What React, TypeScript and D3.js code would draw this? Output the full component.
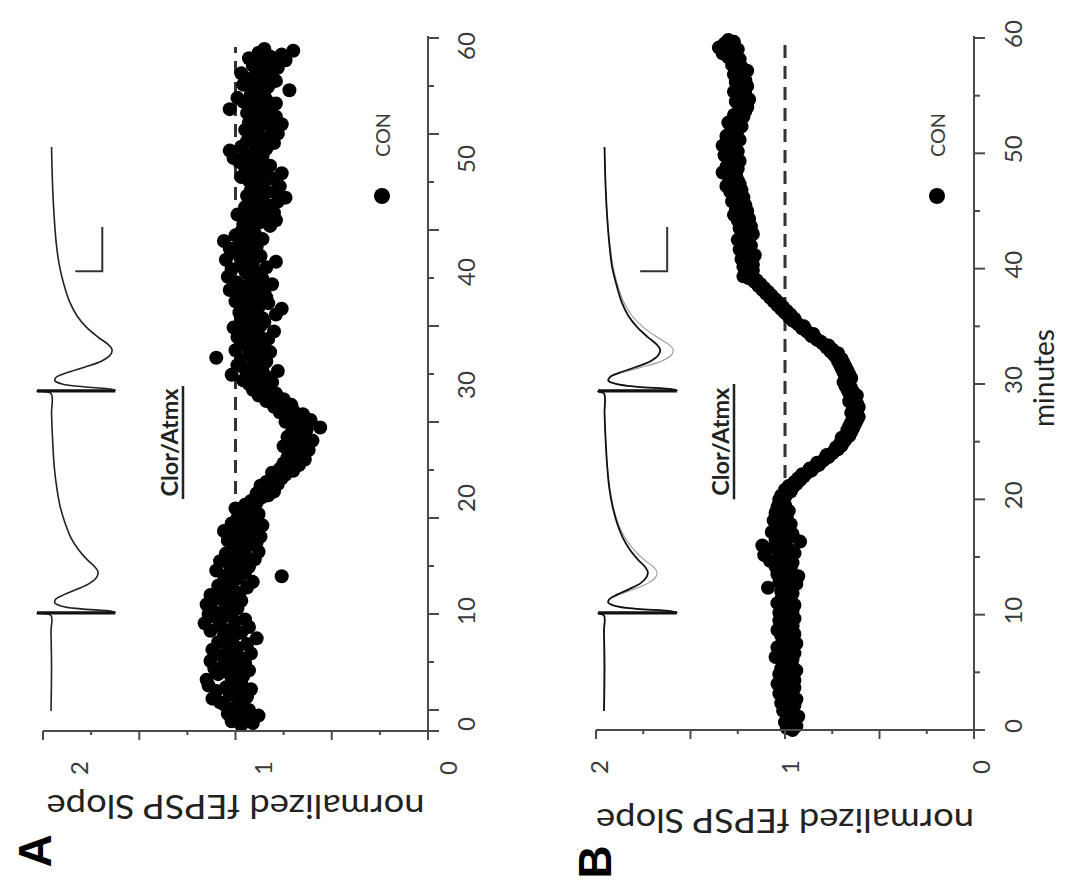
import React from 'react';
import * as d3 from 'd3';

// ---------------- data ----------------
const SAMPLES_PER_MIN = 6; // one slope value every 10 s
const MINUTE_LABELS = [0, 10, 20, 30, 40, 50, 60];
const VALUE_LABELS = [0, 1, 2];
const VALUE_TICKS = [0, 0.25, 0.5, 0.75, 1, 1.25, 1.5, 1.75, 2];
const MINUTE_TICKS = [0, 5, 10, 15, 20, 25, 30, 35, 40, 45, 50, 55, 60];
const A_TICK_MARKS = [0, 1, 2, 3, 4, 5, 6, 7, 8, 9, 10, 11, 12, 13, 14];
const BASELINE = 1;
const DRUG_WINDOW = [20, 30];
const DRUG_LABEL = 'Clor/Atmx';
const LEGEND_LABEL = 'CON';
const X_TITLE = 'minutes';
const Y_TITLE = 'normalized fEPSP Slope';

// Panel A: CON, normalized fEPSP slope (12 values = 2 minutes per row)
const CON_A = [
  0.97, 0.91, 1.02, 0.95, 0.99, 0.88, 1.04, 0.96, 0.93, 1.01, 0.97, 1.06,
  1.08, 0.98, 1.12, 0.94, 1.03, 0.99, 1.10, 0.92, 1.05, 1.14, 0.97, 1.01,
  1.15, 1.02, 0.96, 1.09, 1.04, 0.93, 1.11, 1.00, 1.06, 0.95, 1.13, 1.03,
  0.98, 1.07, 0.92, 1.04, 1.12, 0.99, 1.02, 0.94, 1.09, 1.05, 0.89, 1.01,
  1.06, 0.97, 1.13, 1.02, 0.93, 1.08, 1.16, 1.00, 0.95, 1.10, 1.04, 1.14,
  1.07, 1.12, 0.99, 1.05, 1.15, 1.02, 0.97, 1.10, 1.04, 1.13, 0.98, 1.06,
  1.01, 0.94, 1.09, 1.03, 0.91, 1.06, 0.98, 0.76, 1.04, 0.95, 1.10, 0.99,
  0.93, 1.03, 0.97, 1.08, 0.90, 1.01, 0.95, 1.05, 0.88, 0.99, 1.02, 0.94,
  0.98, 0.89, 1.04, 0.93, 0.87, 1.00, 0.95, 1.06, 0.91, 0.97, 0.86, 1.02,
  0.96, 0.90, 0.99, 0.93, 0.88, 0.97, 0.94, 1.00, 0.91, 0.95, 0.89, 0.92,
  0.90, 0.86, 0.83, 0.89, 0.80, 0.85, 0.82, 0.87, 0.78, 0.84, 0.80, 0.76,
  0.79, 0.74, 0.81, 0.70, 0.77, 0.72, 0.67, 0.75, 0.69, 0.64, 0.73, 0.70,
  0.66, 0.72, 0.62, 0.69, 0.75, 0.64, 0.70, 0.60, 0.67, 0.73, 0.65, 0.71,
  0.68, 0.63, 0.56, 0.70, 0.66, 0.74, 0.61, 0.69, 0.72, 0.65, 0.77, 0.70,
  0.74, 0.80, 0.71, 0.78, 0.84, 0.75, 0.82, 0.88, 0.79, 0.86, 0.91, 0.83,
  0.87, 0.93, 0.81, 0.96, 0.89, 0.84, 1.02, 0.91, 0.78, 0.95, 0.86, 0.99,
  0.90, 0.84, 0.97, 1.10, 0.88, 0.93, 0.82, 1.00, 0.91, 0.86, 0.96, 0.89,
  0.94, 0.83, 0.99, 0.88, 0.92, 0.80, 0.96, 1.01, 0.87, 0.91, 0.85, 0.97,
  0.86, 0.93, 0.79, 0.98, 0.90, 0.76, 0.88, 0.95, 0.83, 1.00, 0.89, 0.84,
  0.92, 0.97, 0.85, 1.03, 0.89, 0.94, 0.81, 0.99, 0.90, 0.86, 1.04, 0.93,
  0.88, 0.95, 1.02, 0.84, 0.97, 0.91, 0.79, 1.05, 0.93, 0.87, 0.99, 0.90,
  0.96, 1.03, 0.89, 0.98, 0.92, 1.06, 0.86, 0.95, 1.00, 0.90, 0.97, 0.93,
  0.91, 0.82, 0.96, 0.87, 0.79, 0.93, 0.85, 0.99, 0.80, 0.90, 0.84, 0.95,
  0.83, 0.91, 0.78, 0.88, 0.74, 0.94, 0.85, 0.80, 0.92, 0.86, 0.77, 0.89,
  0.85, 0.93, 0.80, 0.97, 0.88, 0.76, 0.91, 0.84, 0.95, 0.82, 0.89, 0.98,
  0.92, 1.01, 0.86, 0.95, 0.89, 1.03, 0.84, 0.97, 0.90, 0.80, 0.94, 0.88,
  0.83, 0.91, 0.78, 0.89, 0.95, 0.81, 0.87, 0.76, 0.93, 0.85, 0.90, 0.79,
  0.88, 0.94, 0.82, 1.03, 0.86, 0.91, 0.79, 0.96, 0.84, 0.99, 0.87, 0.92,
  0.85, 0.72, 0.90, 0.83, 0.96, 0.88, 0.79, 0.93, 0.86, 0.81, 0.97, 0.89,
  0.84, 0.78, 0.91, 0.80, 0.87, 0.74, 0.93, 0.82, 0.76, 0.88, 0.70, 0.85,
];

// Panel B: CON, normalized fEPSP slope (12 values = 2 minutes per row)
const CON_B = [
  0.96, 0.99, 0.94, 0.97, 1.00, 0.95, 0.98, 0.93, 0.99, 0.96, 1.01, 0.97,
  0.99, 0.95, 1.02, 0.97, 0.94, 1.00, 0.98, 1.03, 0.96, 0.99, 0.95, 1.01,
  1.04, 0.98, 0.95, 1.01, 0.97, 1.03, 0.99, 0.94, 1.02, 0.96, 1.00, 0.98,
  1.01, 0.96, 1.05, 0.99, 0.95, 1.02, 0.97, 1.04, 0.98, 0.94, 1.01, 0.99,
  0.97, 1.02, 0.95, 1.00, 1.04, 0.98, 0.96, 1.01, 0.99, 1.03, 0.95, 1.00,
  0.98, 1.03, 0.96, 1.01, 0.99, 0.95, 1.04, 0.97, 1.02, 0.98, 1.00, 0.96,
  1.02, 0.97, 1.09, 0.99, 0.94, 1.03, 0.98, 1.01, 0.93, 1.04, 0.99, 1.02,
  0.97, 1.05, 1.00, 0.96, 1.08, 1.02, 0.99, 1.11, 0.95, 1.03, 0.98, 1.06,
  1.12, 1.00, 0.92, 1.05, 0.98, 1.03, 0.96, 1.07, 1.01, 0.99, 1.04, 0.97,
  1.02, 1.06, 0.99, 1.03, 1.00, 1.05, 0.98, 1.02, 1.04, 1.00, 1.03, 1.01,
  1.03, 1.00, 1.02, 0.99, 0.97, 1.00, 0.96, 0.98, 0.94, 0.95, 0.92, 0.93,
  0.90, 0.91, 0.88, 0.86, 0.87, 0.84, 0.82, 0.83, 0.80, 0.79, 0.77, 0.78,
  0.75, 0.74, 0.72, 0.73, 0.70, 0.71, 0.69, 0.68, 0.70, 0.66, 0.67, 0.65,
  0.67, 0.64, 0.66, 0.63, 0.65, 0.62, 0.64, 0.61, 0.63, 0.65, 0.62, 0.64,
  0.61, 0.64, 0.62, 0.66, 0.63, 0.65, 0.62, 0.66, 0.64, 0.67, 0.65, 0.68,
  0.66, 0.69, 0.67, 0.65, 0.68, 0.66, 0.69, 0.67, 0.70, 0.68, 0.71, 0.69,
  0.72, 0.70, 0.73, 0.74, 0.72, 0.76, 0.75, 0.78, 0.77, 0.80, 0.81, 0.83,
  0.84, 0.86, 0.85, 0.88, 0.89, 0.91, 0.90, 0.93, 0.94, 0.96, 0.95, 0.98,
  0.97, 1.00, 0.99, 1.02, 1.01, 1.04, 1.03, 1.06, 1.05, 1.08, 1.07, 1.10,
  1.09, 1.12, 1.11, 1.14, 1.13, 1.16, 1.15, 1.19, 1.22, 1.18, 1.21, 1.17,
  1.19, 1.22, 1.17, 1.21, 1.18, 1.23, 1.20, 1.16, 1.22, 1.19, 1.24, 1.20,
  1.18, 1.22, 1.20, 1.25, 1.19, 1.21, 1.17, 1.23, 1.20, 1.24, 1.18, 1.22,
  1.21, 1.25, 1.19, 1.23, 1.27, 1.22, 1.20, 1.26, 1.23, 1.21, 1.25, 1.28,
  1.24, 1.22, 1.27, 1.25, 1.29, 1.23, 1.26, 1.31, 1.24, 1.28, 1.25, 1.27,
  1.30, 1.26, 1.33, 1.28, 1.25, 1.31, 1.27, 1.29, 1.24, 1.30, 1.27, 1.32,
  1.28, 1.25, 1.30, 1.27, 1.33, 1.26, 1.29, 1.24, 1.28, 1.31, 1.26, 1.29,
  1.25, 1.28, 1.23, 1.27, 1.30, 1.24, 1.26, 1.22, 1.27, 1.25, 1.21, 1.24,
  1.20, 1.24, 1.22, 1.26, 1.19, 1.23, 1.25, 1.21, 1.27, 1.22, 1.24, 1.20,
  1.23, 1.26, 1.21, 1.25, 1.22, 1.27, 1.24, 1.20, 1.26, 1.23, 1.28, 1.25,
  1.27, 1.24, 1.30, 1.26, 1.33, 1.28, 1.25, 1.35, 1.29, 1.32, 1.27, 1.30,
];

// Example fEPSP traces (paired pulse): [time ms, mV]
const STIM_MS = [0, 50];
const SCALE_BAR = { ms: 10, mV: 0.5 };

const TRACE_A = [
  [-22, 0], [-12, -0.01], [-4, 0], [-0.5, 0],
  [0, 0.26], [0.15, -1.19], [0.45, -1.12], [1.0, -0.55], [1.6, -0.2], [2.4, -0.07], [3.2, -0.09],
  [4.2, -0.24], [5.4, -0.48], [6.8, -0.72], [8.2, -0.85], [9.4, -0.87], [10.6, -0.8], [12.2, -0.66],
  [14.5, -0.5], [17, -0.37], [20, -0.27], [24, -0.17], [28, -0.11], [33, -0.06], [39, -0.03], [45, -0.01], [49.5, 0],
  [50, 0.26], [50.15, -1.19], [50.45, -1.12], [51, -0.6], [51.6, -0.22], [52.4, -0.07], [53.2, -0.1],
  [54.2, -0.3], [55.4, -0.62], [56.8, -0.94], [58.2, -1.1], [59.4, -1.13], [60.6, -1.05], [62.2, -0.87],
  [64.5, -0.65], [67, -0.48], [70, -0.35], [74, -0.24], [78, -0.16], [83, -0.1], [89, -0.06], [96, -0.03], [105, -0.01],
];

const TRACE_B_BLACK = [
  [-22, 0], [-12, -0.01], [-4, 0], [-0.5, 0],
  [0, 0.11], [0.15, -1.35], [0.45, -1.25], [1.0, -0.6], [1.6, -0.22], [2.4, -0.08], [3.2, -0.1],
  [4.2, -0.24], [5.4, -0.46], [6.8, -0.68], [8.2, -0.79], [9.4, -0.81], [10.6, -0.75], [12.2, -0.62],
  [14.5, -0.47], [17, -0.35], [20, -0.25], [24, -0.16], [28, -0.1], [33, -0.06], [39, -0.03], [45, -0.01], [49.5, 0],
  [50, 0.11], [50.15, -1.35], [50.45, -1.25], [51, -0.62], [51.6, -0.24], [52.4, -0.08], [53.2, -0.11],
  [54.2, -0.29], [55.4, -0.58], [56.8, -0.87], [58.2, -1.01], [59.4, -1.04], [60.6, -0.97], [62.2, -0.81],
  [64.5, -0.61], [67, -0.45], [70, -0.33], [74, -0.23], [78, -0.15], [83, -0.1], [89, -0.06], [96, -0.03], [105, -0.01],
];

const TRACE_B_GRAY = [
  [-22, 0], [-4, 0], [-0.5, 0],
  [0, 0.11], [0.15, -1.35], [0.45, -1.25], [1.0, -0.62], [1.6, -0.23], [2.4, -0.08], [3.2, -0.11],
  [4.2, -0.28], [5.4, -0.55], [6.8, -0.82], [8.2, -0.96], [9.4, -0.98], [10.6, -0.9], [12.2, -0.73],
  [14.5, -0.54], [17, -0.39], [20, -0.27], [24, -0.17], [28, -0.11], [33, -0.06], [39, -0.03], [45, -0.01], [49.5, 0],
  [50, 0.11], [50.15, -1.35], [50.45, -1.25], [51, -0.64], [51.6, -0.25], [52.4, -0.09], [53.2, -0.12],
  [54.2, -0.33], [55.4, -0.7], [56.8, -1.07], [58.2, -1.25], [59.4, -1.28], [60.6, -1.19], [62.2, -0.98],
  [64.5, -0.72], [67, -0.52], [70, -0.37], [74, -0.25], [78, -0.17], [83, -0.11], [89, -0.06], [96, -0.03], [105, -0.01],
];

// ---------------- layout ----------------
const W = 1084;
const H = 880;
const FONT = 'Lato, "Open Sans", sans-serif';
const AXIS = '#4a4a4a';
const TEXT = '#3a3a3a';

const PANELS = [
  {
    key: 'A',
    values: CON_A,
    traces: [{ data: TRACE_A, color: '#222', width: 1.6 }],
    artifact: [0.26, -1.19],
    valueRange: [428, 43],
    valueLabelRange: [447, 78],
    minuteRange: [725, 47],
    minuteLabelShift: -1,
    irregularTicks: true,
    axisY: 731,
    traceY: [711, 147],
    traceX0: 51,
    scaleBarCorner: [77, -0.95],
    legend: [382, 196],
    drugX: 183,
    titleY: 808,
    minuteLabelX: 465,
    label: [35, 851],
  },
  {
    key: 'B',
    values: CON_B,
    traces: [
      { data: TRACE_B_GRAY, color: '#9a9a9a', width: 1.1 },
      { data: TRACE_B_BLACK, color: '#111', width: 1.8 },
    ],
    artifact: [0.11, -1.35],
    valueRange: [974, 596],
    valueLabelRange: [980, 598],
    minuteRange: [730, 38],
    minuteLabelShift: -4,
    irregularTicks: false,
    axisY: 730,
    traceY: [711, 147],
    traceX0: 604,
    scaleBarCorner: [77, -1.17],
    legend: [937, 196],
    drugX: 734,
    titleY: 822,
    minuteLabelX: 1012,
    label: [595, 862],
  },
];

function Panel({ p }: { p: any }) {
  const v = d3.scaleLinear().domain([0, 2]).range(p.valueRange);
  const vLab = d3.scaleLinear().domain([0, 2]).range(p.valueLabelRange);
  const m = d3.scaleLinear().domain([0, 60]).range(p.minuteRange);
  const tY = d3.scaleLinear().domain([-22, 105]).range(p.traceY);
  const tX = d3.scaleLinear().domain([0, -1]).range([p.traceX0, p.traceX0 + 54]);
  const aTicks = d3.scaleLinear().domain([0, 14]).range([710, 38]);

  const line = d3
    .line<number[]>()
    .x((d) => tX(d[1]))
    .y((d) => tY(d[0]))
    .curve(d3.curveCatmullRom.alpha(0.5));

  const axisX = v(0);
  const minuteTickData = p.irregularTicks
    ? A_TICK_MARKS.map((i) => ({ y: aTicks(i), major: i % 2 === 0 }))
    : MINUTE_TICKS.map((t) => ({ y: m(t), major: t % 10 === 0 }));

  const [bcMs, bcMv] = p.scaleBarCorner;
  const lx = p.legend[0];
  const ly = p.legend[1];

  return (
    <g>
      <line
        x1={v(BASELINE)}
        x2={v(BASELINE)}
        y1={m(0)}
        y2={m(60)}
        stroke="#333"
        strokeWidth={3}
        strokeDasharray="13,8"
      />
      {p.values.map((val: number, i: number) => (
        <circle key={i} cx={v(val)} cy={m(i / SAMPLES_PER_MIN)} r={7} fill="#000" />
      ))}
      <line
        x1={p.drugX}
        x2={p.drugX}
        y1={m(DRUG_WINDOW[0])}
        y2={m(DRUG_WINDOW[1])}
        stroke="#222"
        strokeWidth={2.5}
      />
      <text
        transform={`translate(${p.drugX - 14},${m((DRUG_WINDOW[0] + DRUG_WINDOW[1]) / 2)}) rotate(-90)`}
        textAnchor="middle"
        dominantBaseline="central"
        fontFamily={FONT}
        fontWeight={700}
        fontSize={23}
        fill="#222"
        textLength={108}
        lengthAdjust="spacingAndGlyphs"
      >
        {DRUG_LABEL}
      </text>
      {p.traces.map((tr: any, i: number) => (
        <path key={i} d={line(tr.data) || ''} fill="none" stroke={tr.color} strokeWidth={tr.width} />
      ))}
      {STIM_MS.map((s) => (
        <line
          key={s}
          x1={tX(p.artifact[0])}
          x2={tX(p.artifact[1])}
          y1={tY(s + 0.1)}
          y2={tY(s + 0.1)}
          stroke="#111"
          strokeWidth={3.2}
        />
      ))}
      <path
        d={`M${tX(bcMv + SCALE_BAR.mV)},${tY(bcMs)} L${tX(bcMv)},${tY(bcMs)} L${tX(bcMv)},${tY(bcMs + SCALE_BAR.ms)}`}
        fill="none"
        stroke="#333"
        strokeWidth={2}
      />
      <circle cx={lx} cy={ly} r={8} fill="#000" />
      <text
        transform={`translate(${lx},${ly - 61}) rotate(-90)`}
        textAnchor="middle"
        dominantBaseline="central"
        fontFamily={FONT}
        fontSize={19}
        fill={TEXT}
        textLength={44}
        lengthAdjust="spacingAndGlyphs"
      >
        {LEGEND_LABEL}
      </text>
      <line x1={axisX} x2={axisX} y1={Math.min(m(60), 38) - 2} y2={p.axisY + 9} stroke={AXIS} strokeWidth={2} />
      {minuteTickData.map((t: any, i: number) => (
        <line key={i} x1={axisX} x2={axisX + (t.major ? 11 : 6)} y1={t.y} y2={t.y} stroke={AXIS} strokeWidth={2} />
      ))}
      {MINUTE_LABELS.map((t) => (
        <text
          key={t}
          transform={`translate(${p.minuteLabelX},${m(t) + p.minuteLabelShift}) rotate(-90)`}
          textAnchor="middle"
          dominantBaseline="central"
          fontFamily={FONT}
          fontSize={24}
          fill={TEXT}
        >
          {t}
        </text>
      ))}
      <line x1={v(2)} x2={axisX + 11} y1={p.axisY} y2={p.axisY} stroke={AXIS} strokeWidth={2} />
      {VALUE_TICKS.map((t) => (
        <line
          key={t}
          x1={v(t)}
          x2={v(t)}
          y1={p.axisY}
          y2={p.axisY + (t % 0.5 === 0 ? 9 : 4)}
          stroke={AXIS}
          strokeWidth={2}
        />
      ))}
      {VALUE_LABELS.map((t) => (
        <text
          key={t}
          transform={`translate(${vLab(t)},${p.axisY + 37}) rotate(-90)`}
          textAnchor="middle"
          dominantBaseline="central"
          fontFamily={FONT}
          fontSize={24}
          fill={TEXT}
        >
          {t}
        </text>
      ))}
      <text
        transform={`translate(${(v(0) + v(2)) / 2},${p.titleY}) rotate(180)`}
        textAnchor="middle"
        dominantBaseline="central"
        fontFamily={FONT}
        fontSize={33}
        fill="#222"
        textLength={378}
        lengthAdjust="spacingAndGlyphs"
      >
        {Y_TITLE}
      </text>
      <text
        transform={`translate(${p.label[0]},${p.label[1]}) rotate(-90)`}
        textAnchor="middle"
        dominantBaseline="central"
        fontFamily='"Liberation Sans", Arial, sans-serif'
        fontWeight={700}
        fontSize={46}
        fill="#000"
      >
        {p.key}
      </text>
    </g>
  );
}

export default function App() {
  return (
    <svg
      width={W}
      height={H}
      viewBox={`0 0 ${W} ${H}`}
      style={{ position: 'absolute', left: 0, top: 0, background: '#fff' }}
    >
      <rect x={0} y={0} width={W} height={H} fill="#fff" />
      {PANELS.map((p) => (
        <Panel key={p.key} p={p} />
      ))}
      <text
        transform={`translate(1043,378) rotate(-90)`}
        textAnchor="middle"
        dominantBaseline="central"
        fontFamily={FONT}
        fontSize={28}
        fill="#222"
      >
        {X_TITLE}
      </text>
    </svg>
  );
}
